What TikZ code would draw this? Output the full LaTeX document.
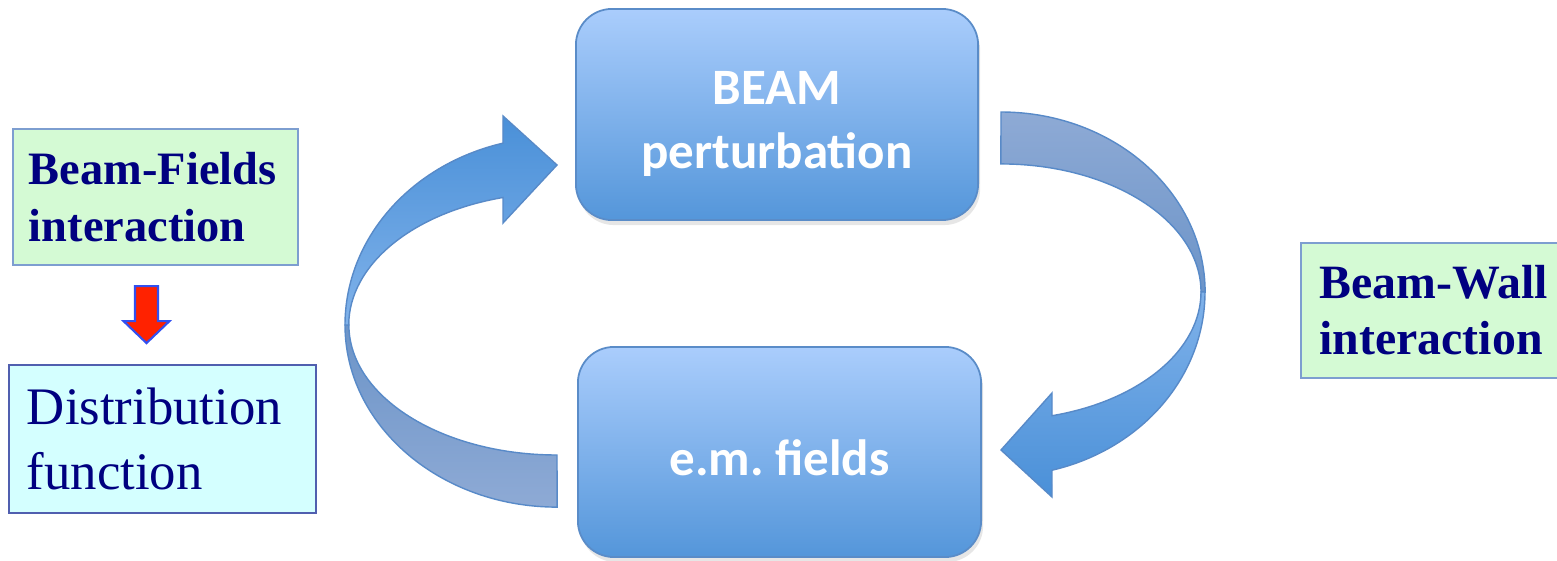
\documentclass[tikz,border=0pt]{standalone}
\usepackage{fontspec}
\setmainfont{Liberation Serif}
\newfontfamily\calibfont{Carlito}
\usetikzlibrary{calc, shadows}

\definecolor{boxtop}{RGB}{170,205,252}
\definecolor{boxbot}{RGB}{84,150,218}
\definecolor{boxline}{RGB}{90,140,200}
\definecolor{ribdark}{RGB}{74,144,216}
\definecolor{riblight}{RGB}{128,178,234}
\definecolor{backlight}{RGB}{142,170,213}
\definecolor{backdark}{RGB}{108,148,200}
\definecolor{ribline}{RGB}{88,138,200}
\definecolor{navytext}{RGB}{0,0,128}
\definecolor{bfgreen}{RGB}{212,250,212}
\definecolor{greenline}{RGB}{125,158,208}
\definecolor{distcyan}{RGB}{212,255,255}
\definecolor{distline}{RGB}{80,95,175}
\definecolor{arrowred}{RGB}{255,34,0}
\definecolor{arrowblue}{RGB}{50,80,240}

\tikzset{
  loopbox/.style={draw=boxline, line width=0.5pt, rounded corners=0.36cm,
    top color=boxtop, bottom color=boxbot, minimum width=4.02cm, minimum height=2.11cm,
    align=center, text=white, font=\calibfont\bfseries\fontsize{14.5}{18.2}\selectfont,
    drop shadow={opacity=0.2, shadow xshift=0.02cm, shadow yshift=-0.05cm}},
  sidebox/.style={draw, line width=0.6pt, inner xsep=0.18cm, inner ysep=0pt, align=left, text=navytext},
  ribbon/.style={draw=ribline, line width=0.4pt}
}

\begin{document}
\begin{tikzpicture}[x=0.01cm, y=0.01cm]
      \useasboundingbox (0,0) rectangle (1557,560);
      \clip (0,0) rectangle (1557,560);

      % Middle: the loop
      \node[loopbox, text height=1.16cm] (beam) at (777,445.5) {BEAM\\perturbation};
      \node[loopbox, text height=0.47cm, minimum width=4.03cm, minimum height=2.1cm] (em) at (779.5,108) {e.m.\ fields};

      % Left: beam-fields
      \node[sidebox, draw=greenline, fill=bfgreen, inner xsep=0.16cm, text width=2.53cm, minimum height=1.36cm,
        font=\bfseries\fontsize{13.2}{16.2}\selectfont] (bf) at (155.5,363) {\mbox{Beam-Fields}\\interaction};
      \node[sidebox, draw=distline, fill=distcyan, text width=2.71cm, minimum height=1.48cm,
        font=\fontsize{15}{18.5}\selectfont] (dist) at (162.5,121) {Distribution\\function};
      \draw[draw=arrowblue, fill=arrowred, line width=0.6pt, shift={($(bf.south)+(-9,-20)$)}]
        (-11.5,0) -- (11.5,0) -- (11.5,-35) -- (23,-35) -- (0,-57) -- (-23,-35) -- (-11.5,-35) -- cycle;

      % Right: beam-wall
      \node[sidebox, draw=greenline, fill=bfgreen, text width=2.55cm, minimum height=1.35cm,
        font=\bfseries\fontsize{13.6}{15.9}\selectfont] (bw) at (1447,249.5) {Beam-Wall\\interaction};

      % Curved arrows
      \coordinate (lc) at ($(em.west)+(-20,127)$);
      \coordinate (rc) at ($(beam.east)+(22,-177.5)$);

      \draw[ribbon, top color=backdark, bottom color=backlight, shift={(lc)}]
        (-212,0) arc[start angle=180, end angle=270, x radius=2.12cm, y radius=1.82cm]
        -- (0,-130) arc[start angle=270, end angle=180, x radius=2.08cm, y radius=1.3cm] -- cycle;
      \draw[ribbon, top color=ribdark, bottom color=riblight, shift={(lc)}]
        (-212,0) arc[start angle=180, end angle=104.8, x radius=2.12cm, y radius=1.88cm]
        -- (-54,209) -- (0,160) -- (-54,102) -- (-54,127.5)
        arc[start angle=105, end angle=180, x radius=2.08cm, y radius=1.32cm] -- cycle;

      \draw[ribbon, top color=backlight, bottom color=backdark, shift={(rc)}]
        (0,180) arc[start angle=90, end angle=0, x radius=2.04cm, y radius=1.8cm]
        -- (200,0) arc[start angle=0, end angle=90, x radius=2cm, y radius=1.28cm] -- cycle;
      \draw[ribbon, top color=riblight, bottom color=ribdark, shift={(rc)}]
        (204,0) arc[start angle=0, end angle=-75.5, x radius=2.04cm, y radius=1.84cm]
        -- (51,-205) -- (0,-158) -- (51,-101) -- (51,-123.7)
        arc[start angle=-75.2, end angle=0, x radius=2cm, y radius=1.28cm] -- cycle;
    \end{tikzpicture}
\end{document}
